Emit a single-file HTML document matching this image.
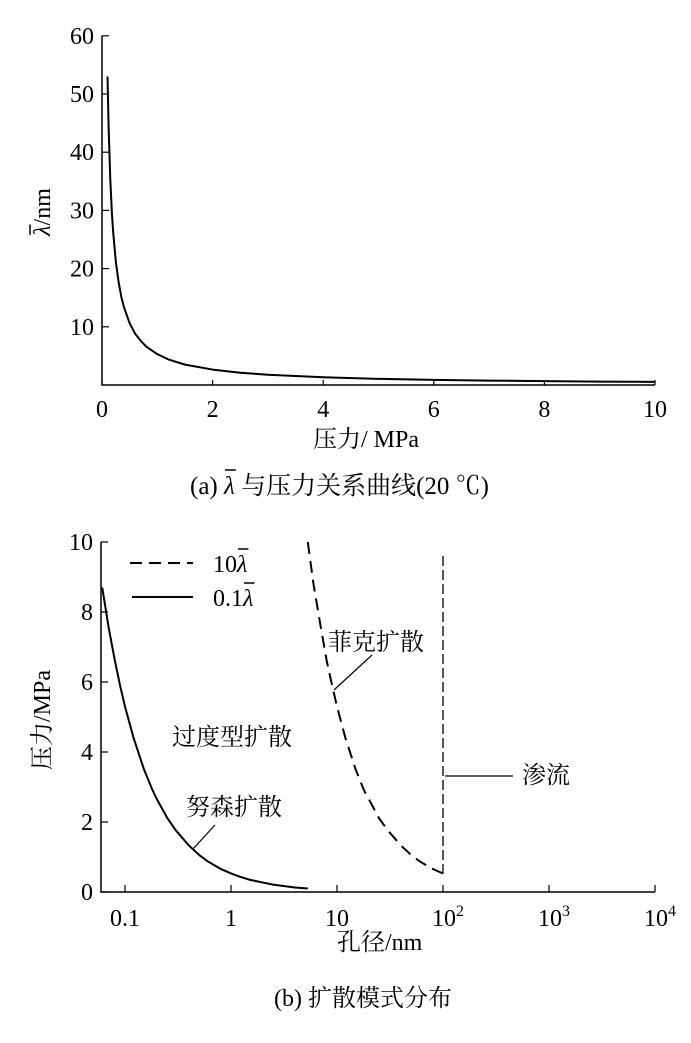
<!DOCTYPE html>
<html><head><meta charset="utf-8"><style>
body{margin:0;background:#fff;}
svg text{font-family:"Liberation Serif","Noto Serif CJK SC","Noto Sans CJK SC",serif;fill:#000;}
</style></head><body>
<svg id="svg" width="691" height="1038" viewBox="0 0 691 1038">
<g id="top"></g>
<g id="bot"></g>
<text id="capa" x="190" y="494" font-size="25">(a) <tspan font-style="italic">λ</tspan> 与压力关系曲线(20 ℃)</text>
<text x="274" y="1006" font-size="24">(b)  扩散模式分布</text>
</svg>
<script>
// chart a data
const pressA=[0.1,0.12,0.15,0.18,0.2,0.25,0.3,0.35,0.4,0.5,0.6,0.7,0.8,1,1.2,1.5,2,2.5,3,4,5,6,7,8,9,10];
const lambdaA=[53,44.2,35.3,29.4,26.5,21.2,17.7,15.1,13.3,10.6,8.8,7.6,6.6,5.3,4.4,3.5,2.65,2.1,1.77,1.33,1.06,0.88,0.76,0.66,0.59,0.53];
const xTicksA=[0,2,4,6,8,10];
const yTicksA=[10,20,30,40,50,60];
// chart b data
const poreSolid=[0.061,0.07,0.08,0.09,0.1,0.12,0.15,0.18,0.2,0.25,0.3,0.4,0.5,0.6,0.7,0.8,1,1.2,1.5,2,2.5,3,4,5.3];
const pressSolid=[8.7,7.57,6.63,5.89,5.3,4.42,3.53,2.94,2.65,2.12,1.77,1.33,1.06,0.88,0.76,0.66,0.53,0.44,0.35,0.27,0.21,0.18,0.13,0.1];
const poreDash=[5.3,6,7,8,9,10,12,15,18,20,25,30,40,50,60,70,80,90,100];
const pressDash=[10,8.8,7.6,6.6,5.9,5.3,4.4,3.5,2.9,2.65,2.1,1.77,1.33,1.06,0.88,0.76,0.66,0.59,0.53];
const xTicksB=[0.1,1,10,100,1000,10000];
const yTicksB=[0,2,4,6,8,10];
const NS="http://www.w3.org/2000/svg";
function mk(p,t,a){const e=document.createElementNS(NS,t);for(const k in a)e.setAttribute(k,a[k]);p.appendChild(e);return e;}
function over(p,txt,idx,y){
 const s=txt.getStartPositionOfChar(idx).x, e=txt.getEndPositionOfChar(idx).x;
 mk(p,'line',{x1:s+1,x2:e+1,y1:y,y2:y,stroke:'#000','stroke-width':1.5});}
// axes a
const xa=v=>102+v*55.3, ya=v=>385-v*5.82;
const T=document.getElementById('top');
let ax=mk(T,'path',{d:`M${xa(0)} ${ya(60)}V${ya(0)}H${xa(10)}`,fill:'none',stroke:'#000','stroke-width':1.5});


xTicksA.forEach(v=>{mk(T,'line',{x1:xa(v),x2:xa(v),y1:ya(0),y2:ya(0)-5,stroke:'#000','stroke-width':1.2});
 const t=mk(T,'text',{x:xa(v),y:417,'font-size':24,'text-anchor':'middle'});t.textContent=v;
 
 });
yTicksA.forEach(v=>{mk(T,'line',{x1:xa(0),x2:xa(0)+7,y1:ya(v),y2:ya(v),stroke:'#000','stroke-width':1.2});
 const t=mk(T,'text',{x:94,y:ya(v)+8,'font-size':24,'text-anchor':'end'});t.textContent=v;
 
 });
let c=mk(T,'path',{d:pressA.map((p,i)=>(i?'L':'M')+xa(p)+' '+ya(lambdaA[i])).join(''),fill:'none',stroke:'#000','stroke-width':2,'stroke-linejoin':'round'});


let t1=mk(T,'text',{x:'313',y:'447','font-size':24});t1.textContent='压力/ MPa';


const yg=mk(T,'g',{transform:'translate(50 212) rotate(-90)'});
let t2=mk(yg,'text',{x:0,y:0,'font-size':24,'text-anchor':'middle'});t2.innerHTML='<tspan font-style="italic">λ</tspan>/nm';


over(yg,t2,0,-20);
over(document.getElementById('svg'),document.getElementById('capa'),4,470);
// axes b
const xb=v=>231+Math.log10(v)*106, yb=v=>892-v*35;
const B=document.getElementById('bot');
let bx=mk(B,'path',{d:`M101 ${yb(10)}V${yb(0)}H655`,fill:'none',stroke:'#000','stroke-width':1.5});


const xl=['0.1','1','10','10<tspan dy="-10" font-size="16">2</tspan>','10<tspan dy="-10" font-size="16">3</tspan>','10<tspan dy="-10" font-size="16">4</tspan>'];
xTicksB.forEach((v,i)=>{mk(B,'line',{x1:xb(v),x2:xb(v),y1:yb(0),y2:yb(0)-7,stroke:'#000','stroke-width':1.2});
 const t=mk(B,'text',{x:xb(v)+(i>2?5:0),y:926,'font-size':24,'text-anchor':'middle'});t.innerHTML=xl[i];
 
 });
yTicksB.forEach(v=>{mk(B,'line',{x1:101,x2:108,y1:yb(v),y2:yb(v),stroke:'#000','stroke-width':1.2});
 const t=mk(B,'text',{x:93,y:yb(v)+8,'font-size':24,'text-anchor':'end'});t.textContent=v;
 
 });
let s=mk(B,'path',{d:poreSolid.map((p,i)=>(i?'L':'M')+xb(p)+' '+yb(pressSolid[i])).join(''),fill:'none',stroke:'#000','stroke-width':2,'stroke-linejoin':'round'});


let d=mk(B,'path',{d:poreDash.map((p,i)=>(i?'L':'M')+xb(p)+' '+yb(pressDash[i])).join(''),fill:'none',stroke:'#000','stroke-width':2,'stroke-dasharray':'12 7'});


let vl=mk(B,'line',{x1:xb(100),x2:xb(100),y1:yb(9.6),y2:yb(0.53),stroke:'#000','stroke-width':1.3,'stroke-dasharray':'10 4'});


// legend
mk(B,'line',{x1:130,x2:193,y1:563,y2:563,stroke:'#000','stroke-width':2,'stroke-dasharray':'12 7'});
mk(B,'line',{x1:132,x2:193,y1:597,y2:597,stroke:'#000','stroke-width':2});
let l1=mk(B,'text',{x:213,y:572,'font-size':24});l1.innerHTML='10<tspan font-style="italic">λ</tspan>';


let l2=mk(B,'text',{x:213,y:606,'font-size':24});l2.innerHTML='0.1<tspan font-style="italic">λ</tspan>';


over(B,l1,2,549);
over(B,l2,3,583);
const labels=[['菲克扩散',328,650],['过度型扩散',172,745],['努森扩散',186,815],['渗流',522,783]];
labels.forEach(l=>{const t=mk(B,'text',{x:l[1],y:l[2],'font-size':24});t.textContent=l[0];
 
 });
mk(B,'line',{x1:334,y1:690,x2:372,y2:655,stroke:'#000','stroke-width':1.2});
mk(B,'line',{x1:193,y1:849,x2:215,y2:825,stroke:'#000','stroke-width':1.2});
mk(B,'line',{x1:445,y1:776,x2:513,y2:776,stroke:'#000','stroke-width':1.2});
let bt=mk(B,'text',{x:337,y:950,'font-size':24});bt.textContent='孔径/nm';


let by=mk(B,'text',{x:0,y:0,'font-size':24,'text-anchor':'middle',transform:'translate(50 720) rotate(-90)'});by.textContent='压力/MPa';


</script>
</body></html>
